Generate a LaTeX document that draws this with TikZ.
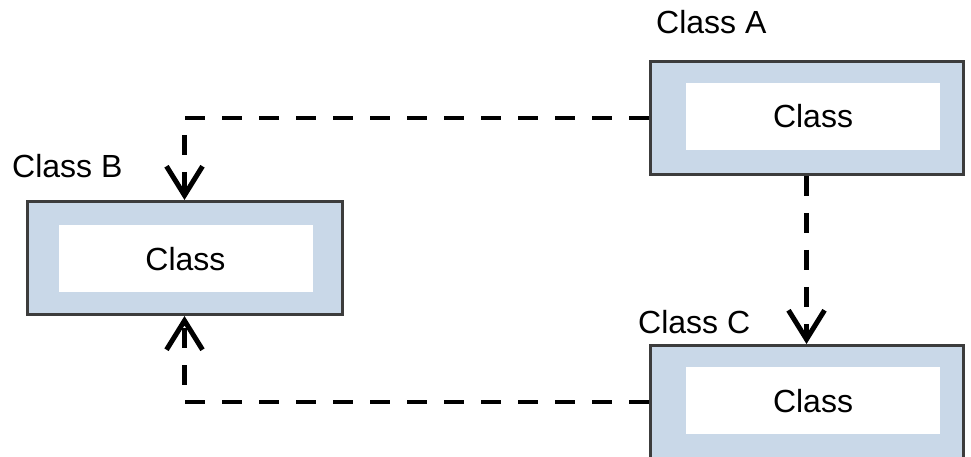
\documentclass[tikz,border=0pt]{standalone}
\usepackage{fontspec}
\setmainfont{Liberation Sans}
\usetikzlibrary{arrows.meta}
\begin{document}
\begin{tikzpicture}[x=1pt,y=1pt,
  outerbox/.style={draw=borderColor,line width=3pt,fill=panelColor,minimum width=313pt,minimum height=113pt,inner sep=0pt},
  innerbox/.style={fill=white,minimum width=254pt,minimum height=67pt,inner sep=0pt,font=\fontsize{32}{36}\selectfont},
  classlabel/.style={anchor=west,inner sep=0pt,font=\fontsize{32}{36}\selectfont},
  dep/.style={draw=black,line width=4.5pt,dash pattern=on 20pt off 17pt,-{Straight Barb[length=29pt,width=36pt,line width=5pt]}}]
\definecolor{fillColor}{RGB}{255,255,255}
\definecolor{panelColor}{RGB}{201,216,232}
\definecolor{borderColor}{RGB}{60,60,60}
\path[use as bounding box,fill=fillColor] (0,0) rectangle (971,457);

% class boxes
\node[outerbox] (Aouter) at (806.5,339) {};
\node[innerbox] (Ainner) at (813,340.5) {Class};

\node[outerbox,minimum width=315pt] (Bouter) at (184.5,199) {};
\node[innerbox] (Binner) at (185.5,198) {Class};

\node[outerbox] (Couter) at (806.5,55) {};
\node[innerbox] (Cinner) at (813,56) {Class};

% labels
\node[classlabel] (Alabel) at (656,435) {Class A};
\node[classlabel] (Blabel) at (12,291) {Class B};
\node[classlabel] (Clabel) at (638,135) {Class C};

% dependencies
\draw[dep] (Aouter.west) -| (Bouter.north);
\draw[dep] (Aouter.south) -- (Couter.north);
\draw[dep] (Couter.west) -| (Bouter.south);
\end{tikzpicture}
\end{document}
